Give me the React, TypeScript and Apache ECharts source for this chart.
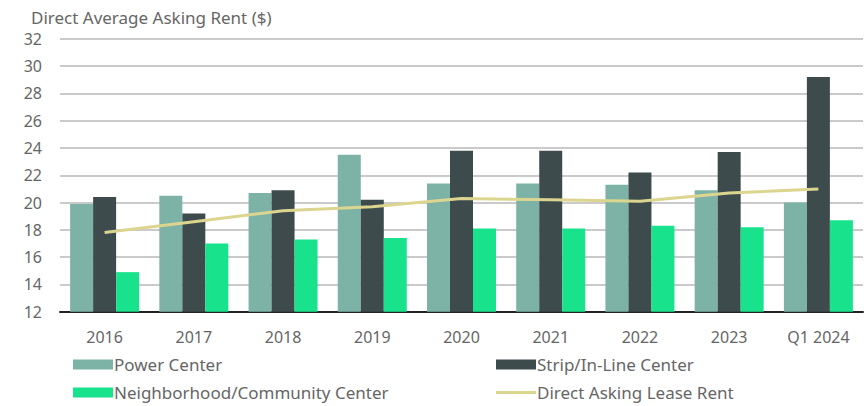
import React, { useEffect, useRef } from "react";
import * as echarts from "echarts";

const categories = ["2016", "2017", "2018", "2019", "2020", "2021", "2022", "2023", "Q1 2024"];
const powerCenter = [19.9, 20.5, 20.7, 23.5, 21.4, 21.4, 21.3, 20.9, 20.0];
const stripCenter = [20.4, 19.2, 20.9, 20.2, 23.8, 23.8, 22.2, 23.7, 29.2];
const neighborhoodCenter = [14.9, 17.0, 17.3, 17.4, 18.1, 18.1, 18.3, 18.2, 18.7];
const directAskingRent = [17.8, 18.6, 19.4, 19.7, 20.3, 20.2, 20.1, 20.7, 21.0];

const FONT = "'Noto Sans', sans-serif";
const TEXT = "#666666";

const legendText = { fontFamily: FONT, fontSize: 17, color: TEXT, padding: [0, 0, 0, -4] };

function legendItem(name: string, left: number, top: number, icon: string) {
  return {
    left,
    top,
    padding: 0,
    itemWidth: 40,
    itemHeight: 10,
    data: [{ name, icon }],
    textStyle: legendText,
  };
}

export default function App() {
  const ref = useRef<HTMLDivElement>(null);

  useEffect(() => {
    document.body.style.margin = "0";
    if (!ref.current) return;
    const chart = echarts.init(ref.current, undefined, { renderer: "svg" });
    chart.setOption({
      animation: false,
      backgroundColor: "#ffffff",
      textStyle: { fontFamily: FONT },
      title: {
        text: "Direct Average Asking Rent ($)",
        left: 26,
        top: 4,
        textStyle: { fontFamily: FONT, fontSize: 17, fontWeight: "normal", color: TEXT },
      },
      grid: { left: 60, right: 1, top: 38.9, bottom: 406 - 311.7, containLabel: false },
      legend: [
        legendItem("Power Center", 73, 356, "rect"),
        legendItem("Neighborhood/Community Center", 73, 384, "rect"),
        legendItem("Strip/In-Line Center", 496, 356, "rect"),
        legendItem("Direct Asking Lease Rent", 496, 384, "path://M0,0 L40,0 L40,3 L0,3 Z"),
      ],
      xAxis: {
        type: "category",
        data: categories,
        axisTick: { show: false },
        axisLine: { lineStyle: { color: "#222222", width: 2 } },
        axisLabel: { color: TEXT, fontSize: 16, fontFamily: FONT, margin: 17 },
      },
      yAxis: {
        type: "value",
        min: 12,
        max: 32,
        interval: 2,
        axisLine: { show: false },
        axisTick: { show: false },
        axisLabel: { color: TEXT, fontSize: 16, fontFamily: FONT, margin: 18 },
        splitLine: { lineStyle: { color: "#b8b8b8", width: 1.5 } },
      },
      series: [
        {
          name: "Power Center",
          type: "bar",
          data: powerCenter,
          barWidth: 23,
          barGap: "0%",
          itemStyle: { color: "#7db3a6" },
        },
        {
          name: "Strip/In-Line Center",
          type: "bar",
          data: stripCenter,
          barWidth: 23,
          barGap: "0%",
          itemStyle: { color: "#3e4b4d" },
        },
        {
          name: "Neighborhood/Community Center",
          type: "bar",
          data: neighborhoodCenter,
          barWidth: 23,
          barGap: "0%",
          itemStyle: { color: "#18e38c" },
        },
        {
          name: "Direct Asking Lease Rent",
          type: "line",
          data: directAskingRent,
          symbol: "none",
          showSymbol: false,
          lineStyle: { color: "#dcd58f", width: 3 },
          itemStyle: { color: "#dcd58f" },
          z: 5,
        },
      ],
    });
    return () => chart.dispose();
  }, []);

  return <div ref={ref} style={{ width: 864, height: 406, position: "fixed", left: 0, top: 0 }} />;
}
